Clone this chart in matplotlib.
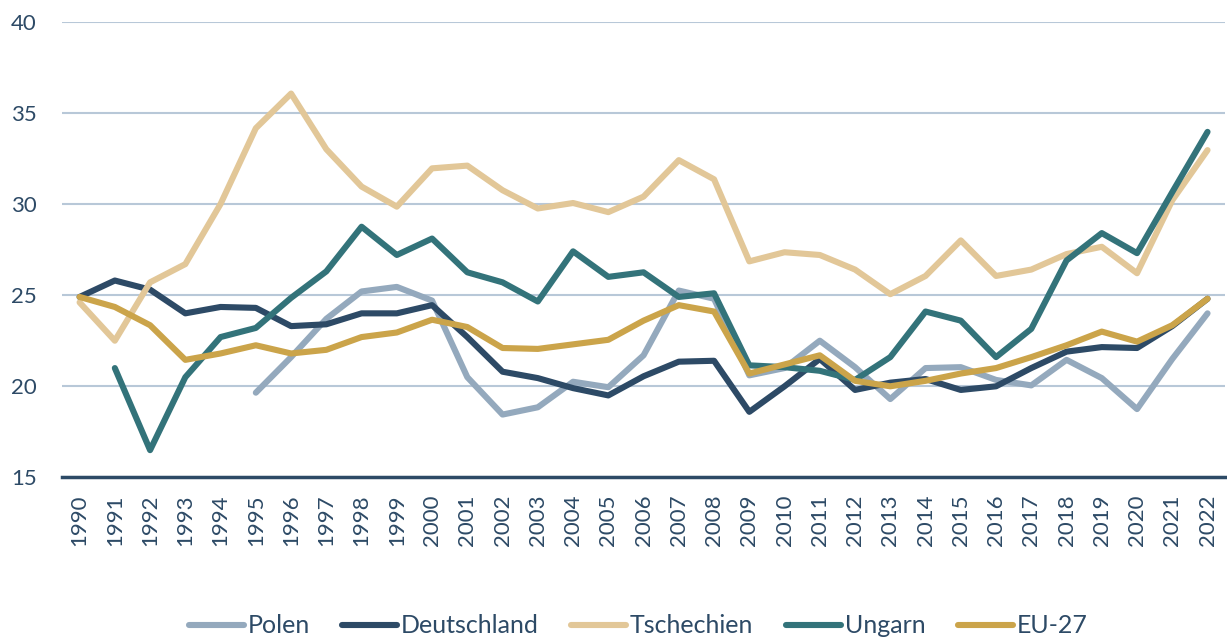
import numpy as np
import matplotlib
matplotlib.use('Agg')
import matplotlib.pyplot as plt

# Data
years = list(range(1990, 2023))

polen = [np.nan, np.nan, np.nan, np.nan, np.nan,
         19.65, 21.6, 23.7, 25.2, 25.45, 24.7,
         20.5, 18.45, 18.85, 20.25, 19.95, 21.7, 25.25, 24.8, 20.6, 21.0,
         22.5, 21.05, 19.3, 21.0, 21.05, 20.35, 20.05, 21.45, 20.45, 18.75,
         21.5, 24.0]

deutschland = [24.9, 25.8, 25.3, 24.0, 24.35, 24.3, 23.3, 23.4, 24.0, 24.0, 24.45,
               22.7, 20.8, 20.45, 19.9, 19.5, 20.55, 21.35, 21.4, 18.6, 20.0,
               21.5, 19.8, 20.2, 20.4, 19.8, 20.0, 21.0, 21.9, 22.15, 22.1,
               23.3, 24.8]

tschechien = [24.6, 22.5, 25.7, 26.7, 30.0, 34.15, 36.05, 33.0, 30.95, 29.85, 31.95,
              32.1, 30.75, 29.75, 30.05, 29.55, 30.4, 32.4, 31.35, 26.85, 27.35,
              27.2, 26.4, 25.05, 26.05, 28.0, 26.05, 26.4, 27.25, 27.65, 26.2,
              30.2, 32.95]

ungarn = [np.nan, 21.0, 16.5, 20.5, 22.7, 23.2, 24.85, 26.3, 28.75, 27.2, 28.1,
          26.25, 25.7, 24.65, 27.4, 26.0, 26.25, 24.9, 25.1, 21.15, 21.05,
          20.85, 20.35, 21.6, 24.1, 23.6, 21.6, 23.15, 26.9, 28.4, 27.3,
          30.65, 33.95]

eu27 = [24.9, 24.35, 23.35, 21.45, 21.8, 22.25, 21.8, 22.0, 22.7, 22.95, 23.65,
        23.25, 22.1, 22.05, 22.3, 22.55, 23.6, 24.45, 24.1, 20.7, 21.2,
        21.7, 20.3, 20.0, 20.3, 20.7, 21.0, 21.6, 22.25, 23.0, 22.45,
        23.35, 24.8]

series = [
    ('Polen', polen, '#94A9BD'),
    ('Deutschland', deutschland, '#2D4A66'),
    ('Tschechien', tschechien, '#E2C798'),
    ('Ungarn', ungarn, '#33737A'),
    ('EU-27', eu27, '#CBA44A'),
]

text_color = '#2D4A66'
plt.rcParams['font.family'] = ['Lato', 'DejaVu Sans']

fig = plt.figure(figsize=(12.27, 6.37), dpi=100)
ax = fig.add_axes([0.0505, 0.2504, 0.948, 0.7158])

x = np.arange(len(years))
for name, vals, color in series:
    ax.plot(x, vals, color=color, lw=4.4, label=name,
            solid_capstyle='round', solid_joinstyle='round')

ax.set_xlim(-0.5, len(years) - 0.5)
ax.set_ylim(15, 40)
ax.set_yticks([15, 20, 25, 30, 35, 40])
ax.set_xticks(x)
ax.set_xticklabels([str(y) for y in years], rotation=90)

ax.grid(axis='y', color='#B8C8D8', lw=1.5)
ax.set_axisbelow(True)
for side in ['top', 'right', 'left']:
    ax.spines[side].set_visible(False)
ax.spines['bottom'].set_color('#2D4A66')
ax.spines['bottom'].set_linewidth(2.5)

ax.tick_params(axis='both', length=0, labelsize=16, colors=text_color)
ax.tick_params(axis='y', pad=18)
ax.tick_params(axis='x', pad=12)

leg = fig.legend(loc='lower center', ncol=5, bbox_to_anchor=(0.52, -0.036),
                 frameon=False, fontsize=18, handlelength=2.2,
                 columnspacing=1.3, handletextpad=0.15)
for t in leg.get_texts():
    t.set_color(text_color)

fig.savefig('out.png', dpi=100)
plt.close()
